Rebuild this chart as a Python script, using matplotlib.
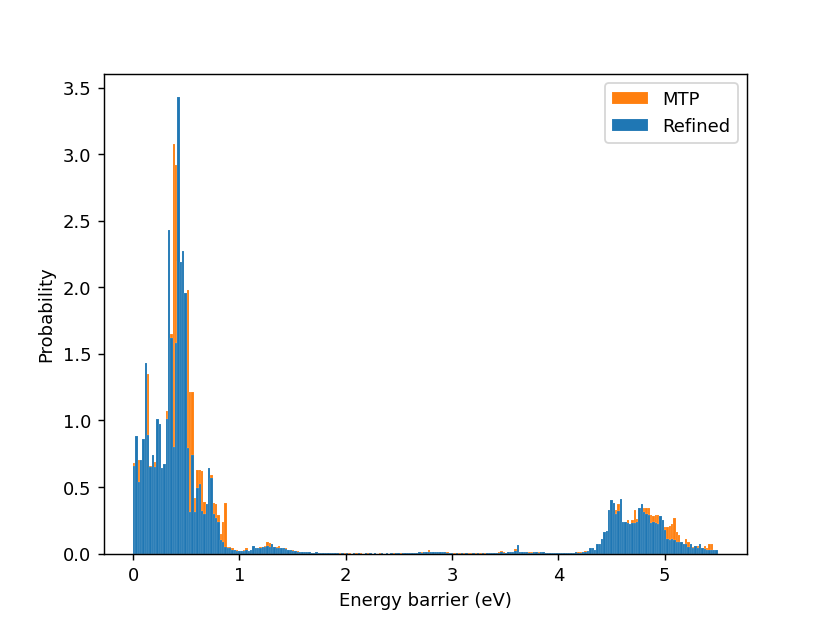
import numpy as np
import matplotlib
matplotlib.use("Agg")
import matplotlib.pyplot as plt

# histogram bins: 250 bins from 0 to 5.5 eV
bin_edges = np.linspace(0, 5.5, 251)

# density per bin (Refined)
refined = [
    0.66, 0.88, 0.54, 0.70, 0.86, 1.43, 0.89, 0.65, 0.74, 0.65,
    1.01, 0.97, 0.64, 0.67, 1.01, 2.43, 1.62, 0.80, 1.58, 3.43,
    2.19, 2.27, 1.96, 0.79, 0.31, 0.74, 0.31, 0.49, 0.52, 0.32,
    0.30, 0.37, 0.64, 0.57, 0.30, 0.27, 0.24, 0.10, 0.09, 0.05,
    0.04, 0.04, 0.03, 0.025, 0.02, 0.02, 0.02, 0.02, 0.025, 0.02,
    0.025, 0.055, 0.045, 0.04, 0.045, 0.05, 0.05, 0.06, 0.05, 0.07,
    0.05, 0.045, 0.04, 0.045, 0.04, 0.035, 0.03, 0.025, 0.02, 0.02,
    0.015, 0.015, 0.01, 0.01, 0.012, 0.01, 0.005, 0.004, 0.008, 0.003,
    0.004, 0.003, 0.002, 0.003, 0.003, 0.002, 0.003, 0.002, 0.0, 0.002,
    0.0, 0.002, 0.0, 0.0, 0.002, 0.0, 0.002, 0.0, 0.0, 0.002,
    0.0, 0.002, 0.0, 0.002, 0.0, 0.0, 0.002, 0.0, 0.002, 0.0,
    0.002, 0.0, 0.002, 0.003, 0.0, 0.002, 0.004, 0.003, 0.005, 0.004,
    0.006, 0.005, 0.008, 0.006, 0.012, 0.015, 0.014, 0.008, 0.01, 0.012,
    0.015, 0.01, 0.012, 0.01, 0.006, 0.004, 0.002, 0.0, 0.002, 0.0,
    0.002, 0.0, 0.002, 0.0, 0.0, 0.002, 0.0, 0.002, 0.0, 0.002,
    0.0, 0.002, 0.003, 0.002, 0.003, 0.004, 0.005, 0.008, 0.006, 0.005,
    0.01, 0.008, 0.012, 0.02, 0.062, 0.012, 0.01, 0.008, 0.01, 0.007,
    0.006, 0.008, 0.01, 0.006, 0.008, 0.01, 0.006, 0.004, 0.003, 0.004,
    0.003, 0.002, 0.003, 0.004, 0.003, 0.005, 0.004, 0.006, 0.005, 0.01,
    0.005, 0.005, 0.01, 0.015, 0.02, 0.04, 0.04, 0.03, 0.075, 0.075,
    0.11, 0.16, 0.17, 0.33, 0.40, 0.38, 0.30, 0.32, 0.41, 0.24,
    0.24, 0.23, 0.22, 0.23, 0.23, 0.24, 0.34, 0.37, 0.31, 0.30,
    0.29, 0.23, 0.24, 0.23, 0.22, 0.28, 0.25, 0.18, 0.11, 0.10,
    0.11, 0.10, 0.09, 0.09, 0.09, 0.07, 0.07, 0.05, 0.07, 0.04,
    0.06, 0.04, 0.07, 0.04, 0.035, 0.03, 0.03, 0.025, 0.03, 0.03,
]

# density per bin (MTP)
mtp = [
    0.68, 0.70, 0.70, 0.68, 0.74, 0.90, 1.35, 0.66, 0.70, 0.69,
    0.95, 0.90, 0.60, 0.65, 1.07, 1.64, 1.65, 3.08, 2.92, 2.20,
    2.00, 2.10, 1.80, 1.98, 1.21, 1.21, 0.42, 0.63, 0.63, 0.62,
    0.39, 0.37, 0.40, 0.59, 0.38, 0.37, 0.29, 0.15, 0.24, 0.38,
    0.05, 0.05, 0.04, 0.03, 0.03, 0.02, 0.02, 0.025, 0.04, 0.02,
    0.02, 0.035, 0.04, 0.045, 0.05, 0.05, 0.055, 0.085, 0.08, 0.05,
    0.05, 0.05, 0.055, 0.04, 0.035, 0.04, 0.03, 0.03, 0.025, 0.02,
    0.02, 0.01, 0.01, 0.008, 0.01, 0.006, 0.004, 0.003, 0.004, 0.004,
    0.002, 0.002, 0.003, 0.002, 0.002, 0.003, 0.002, 0.0, 0.002, 0.0,
    0.002, 0.0, 0.002, 0.0, 0.0, 0.002, 0.0, 0.002, 0.0, 0.0,
    0.002, 0.0, 0.0, 0.002, 0.0, 0.002, 0.0, 0.0, 0.002, 0.0,
    0.0, 0.002, 0.0, 0.002, 0.003, 0.0, 0.003, 0.004, 0.004, 0.006,
    0.005, 0.006, 0.006, 0.01, 0.01, 0.012, 0.025, 0.01, 0.008, 0.01,
    0.01, 0.012, 0.01, 0.015, 0.008, 0.005, 0.003, 0.002, 0.0, 0.002,
    0.0, 0.002, 0.0, 0.002, 0.002, 0.0, 0.002, 0.0, 0.002, 0.0,
    0.002, 0.002, 0.0, 0.003, 0.004, 0.005, 0.01, 0.02, 0.008, 0.006,
    0.012, 0.008, 0.01, 0.035, 0.02, 0.01, 0.012, 0.008, 0.006, 0.01,
    0.008, 0.01, 0.006, 0.008, 0.006, 0.004, 0.005, 0.003, 0.004, 0.003,
    0.002, 0.003, 0.004, 0.002, 0.004, 0.003, 0.005, 0.004, 0.006, 0.008,
    0.01, 0.01, 0.015, 0.02, 0.02, 0.035, 0.035, 0.03, 0.07, 0.07,
    0.10, 0.15, 0.16, 0.30, 0.36, 0.36, 0.33, 0.37, 0.35, 0.24,
    0.23, 0.25, 0.22, 0.25, 0.33, 0.26, 0.30, 0.33, 0.34, 0.34,
    0.34, 0.29, 0.28, 0.29, 0.29, 0.26, 0.23, 0.20, 0.20, 0.21,
    0.22, 0.27, 0.16, 0.14, 0.09, 0.07, 0.11, 0.09, 0.06, 0.05,
    0.05, 0.06, 0.05, 0.035, 0.055, 0.04, 0.075, 0.07, 0.02, 0.02,
]

centers = 0.5 * (bin_edges[:-1] + bin_edges[1:])

fig, ax = plt.subplots(figsize=(6.4, 4.8), dpi=129.7)
ax.hist(centers, bins=bin_edges, weights=mtp, color="C1", label="MTP",
        edgecolor=(1, 1, 1, 0.35), linewidth=0.2)
ax.hist(centers, bins=bin_edges, weights=refined, color="C0", label="Refined",
        edgecolor=(1, 1, 1, 0.35), linewidth=0.2)

ax.set_xlabel("Energy barrier (eV)")
ax.set_ylabel("Probability")
ax.legend(loc="upper right")

plt.savefig("out.png", dpi=129.7)
